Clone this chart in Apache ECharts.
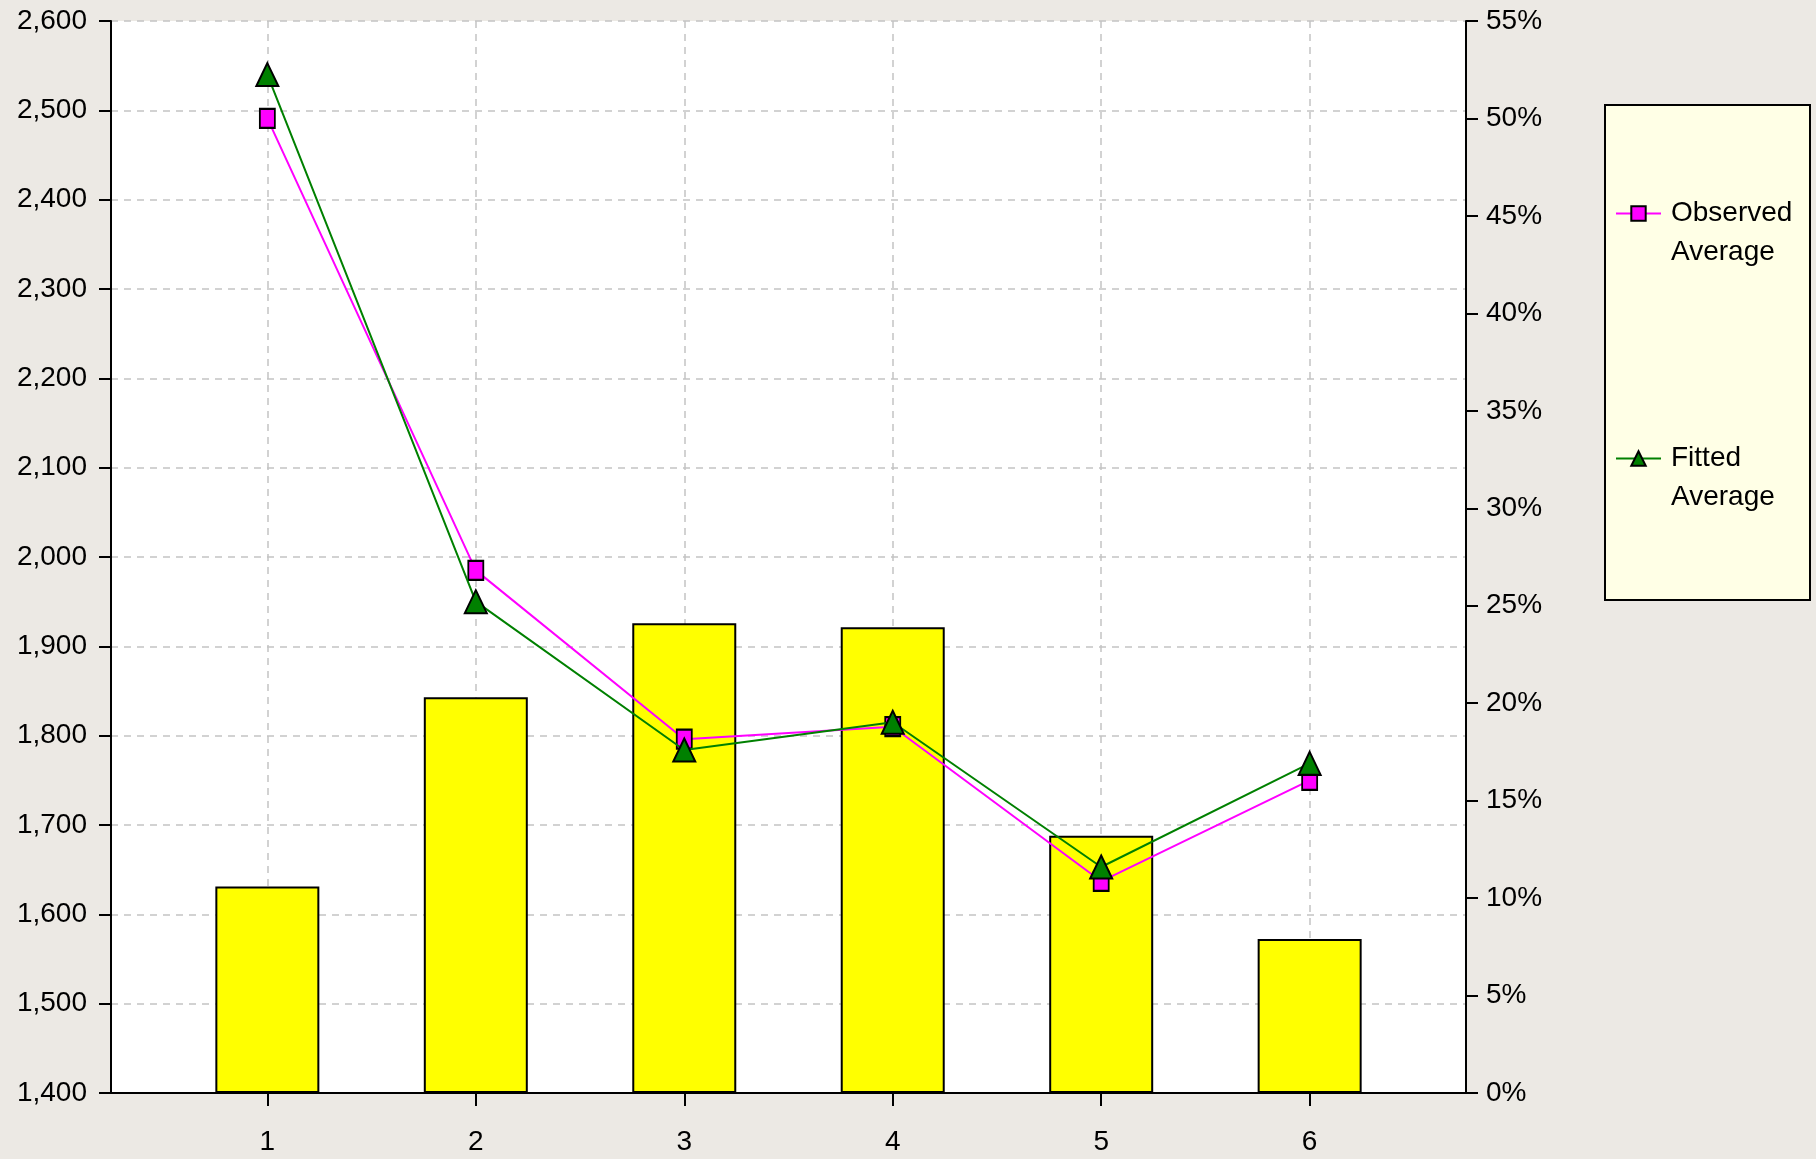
<!DOCTYPE html>
<html>
<head>
<meta charset="utf-8">
<script src="https://cdn.jsdelivr.net/npm/echarts@6/dist/echarts.min.js"></script>
<style>
html,body{margin:0;padding:0;background:#ece9e4;}
#chart{width:1816px;height:1159px;}
</style>
</head>
<body>
<div id="chart"></div>
<script>
var categories = [1, 2, 3, 4, 5, 6];
var barPercent = [10.6, 20.3, 24.1, 23.9, 13.2, 7.9];
var observedAverage = [2491, 1985, 1796, 1810, 1637, 1750];
var fittedAverage = [2540, 1950, 1784, 1815, 1653, 1769];
var leftTicks = {min: 1400, max: 2600, step: 100};
var rightTicks = {min: 0, max: 55, step: 5};

var FONT = 'Liberation Sans';
function pairs(vals) { return categories.map(function (c, i) { return [c, vals[i]]; }); }

var chart = echarts.init(document.getElementById('chart'), null, {renderer: 'canvas'});
chart.setOption({
  backgroundColor: '#ece9e4',
  animation: false,
  textStyle: {fontFamily: FONT},
  grid: {
    left: 111, right: 350, top: 21, bottom: 66,
    show: true, backgroundColor: '#ffffff', borderWidth: 0
  },
  graphic: [{
    type: 'rect', left: 1604, top: 104, z: 0,
    shape: {width: 205, height: 495},
    style: {fill: '#ffffe6', stroke: '#000000', lineWidth: 2}
  }],
  legend: {
    orient: 'vertical', left: 1610, top: 150, z: 10,
    itemWidth: 45, itemHeight: 18, itemGap: 128,
    data: ['Observed\nAverage', 'Fitted\nAverage'],
    formatter: function (name) { return ' \n' + name; },
    textStyle: {fontFamily: FONT, fontSize: 28, color: '#000', lineHeight: 39, padding: [0, 0, 0, 5]}
  },
  xAxis: {
    type: 'value', min: 0.25, max: 6.75,
    axisLine: {show: true, onZero: false, lineStyle: {color: '#000', width: 2}},
    axisTick: {show: true, length: 13, customValues: categories, lineStyle: {color: '#000', width: 2}},
    axisLabel: {customValues: categories, margin: 35, fontSize: 28, color: '#000', fontFamily: FONT},
    splitLine: {show: true, lineStyle: {color: '#c4c4c4', type: [7, 6], width: 1.5}}
  },
  yAxis: [{
    type: 'value', position: 'left',
    min: leftTicks.min, max: leftTicks.max, interval: leftTicks.step,
    axisLine: {show: true, lineStyle: {color: '#000', width: 2}},
    axisTick: {show: true, length: 12, lineStyle: {color: '#000', width: 2}},
    axisLabel: {margin: 24, fontSize: 28, color: '#000', fontFamily: FONT,
      formatter: function (v) { return v.toLocaleString('en-US'); }},
    splitLine: {show: true, lineStyle: {color: '#c4c4c4', type: [7, 6], width: 1.5}}
  }, {
    type: 'value', position: 'right',
    min: rightTicks.min, max: rightTicks.max, interval: rightTicks.step,
    axisLine: {show: true, lineStyle: {color: '#000', width: 2}},
    axisTick: {show: true, length: 12, lineStyle: {color: '#000', width: 2}},
    axisLabel: {margin: 20, fontSize: 28, color: '#000', fontFamily: FONT,
      formatter: function (v) { return v + '%'; }},
    splitLine: {show: false}
  }],
  series: [{
    name: 'Percent', type: 'bar', yAxisIndex: 1, barWidth: 104, z: 2,
    data: pairs(barPercent),
    itemStyle: {color: '#ffff00', borderColor: '#000', borderWidth: 2}
  }, {
    name: 'Observed\nAverage', type: 'line', yAxisIndex: 0, z: 3,
    data: pairs(observedAverage),
    symbol: 'rect', symbolSize: [15, 19],
    lineStyle: {color: '#ff00ff', width: 2},
    itemStyle: {color: '#ff00ff', borderColor: '#000', borderWidth: 2}
  }, {
    name: 'Fitted\nAverage', type: 'line', yAxisIndex: 0, z: 4,
    data: pairs(fittedAverage),
    symbol: 'triangle', symbolSize: [22, 23],
    lineStyle: {color: '#008000', width: 2},
    itemStyle: {color: '#008000', borderColor: '#000', borderWidth: 2}
  }]
});
</script>
</body>
</html>
